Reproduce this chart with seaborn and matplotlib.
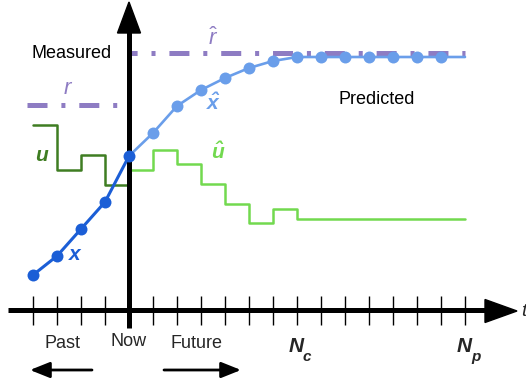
import matplotlib
matplotlib.use("Agg")
import matplotlib.pyplot as plt
from matplotlib.patches import Polygon, FancyArrowPatch
import seaborn as sns

# --- signals (time step k, Now = 0) -------------------------------------
k_past = [-4, -3, -2, -1, 0]
x_measured = [3.5, 5.4, 8.1, 10.8, 15.4]

k_future = list(range(0, 15))
x_predicted = [15.4, 17.7, 20.4, 22.0, 23.2, 24.2, 24.9, 25.3,
               25.3, 25.3, 25.3, 25.3, 25.3, 25.3, 25.3]

u_past = [18.5, 14.0, 15.5, 12.5]                      # held over k = -4..-1
u_future = [14.0, 16.0, 14.6, 12.6, 10.6, 8.7, 10.1,
            9.1, 9.1, 9.1, 9.1, 9.1, 9.1, 9.1]          # held over k = 0..13

r_k = [-4.25, -0.3]
r_past = [20.5, 20.5]
r_hat_k = [0.08, 14.0]
r_future = [25.7, 25.7]

tick_steps = [k for k in range(-4, 15) if k != 0]
N_c, N_p = 7, 14

# --- styling ------------------------------------------------------------
sns.set_theme(style="white")
plt.rcParams["font.family"] = ["Liberation Sans", "DejaVu Sans"]
plt.rcParams["mathtext.fontset"] = "custom"
plt.rcParams["mathtext.rm"] = "Liberation Sans"
plt.rcParams["mathtext.it"] = "Liberation Sans:italic"
plt.rcParams["mathtext.bf"] = "Liberation Sans:italic:bold"
plt.rcParams["lines.scale_dashes"] = False

DARK_BLUE = "#1b5ed6"
LIGHT_BLUE = "#6a9eea"
DARK_GREEN = "#3f7d22"
LIGHT_GREEN = "#72d94f"
PURPLE = "#8e7cc3"

W, H = 526, 380
fig = plt.figure(figsize=(W / 100, H / 100), dpi=100)
ax = fig.add_axes([0, 0, 1, 1])
ax.set_axis_off()
# 24 px per time step, 10 px per signal unit; Now sits at x=129 px, axis at y=310 px
ax.set_xlim(-129 / 24, (W - 129) / 24)
ax.set_ylim((310 - H) / 10, 310 / 10)


def fp(x, y):
    """pixel position (from top-left) -> figure fraction"""
    return x / W, 1 - y / H


def inch(x, y):
    return x / 100, (H - y) / 100


# --- reference trajectories ----------------------------------------------
sns.lineplot(x=r_k, y=r_past, ax=ax, color=PURPLE, linewidth=3.6,
             linestyle=(0, (14.4, 10.0, 2.9, 10.0)), zorder=2)
sns.lineplot(x=r_hat_k, y=r_future, ax=ax, color=PURPLE, linewidth=3.6,
             linestyle=(10.0, (14.4, 10.0, 2.9, 10.0)), zorder=2)

# --- inputs (zero-order hold) --------------------------------------------
sns.lineplot(x=k_past, y=u_past + [u_past[-1]], ax=ax, color=DARK_GREEN,
             linewidth=1.8, drawstyle="steps-post", zorder=2)
sns.lineplot(x=k_future, y=u_future + [u_future[-1]], ax=ax, color=LIGHT_GREEN,
             linewidth=1.8, drawstyle="steps-post", zorder=2)

# --- outputs -------------------------------------------------------------
sns.lineplot(x=k_future, y=x_predicted, ax=ax, color=LIGHT_BLUE, linewidth=1.9,
             marker="o", markersize=8.6, markeredgewidth=0,
             markevery=list(range(1, 14)), zorder=2)

# --- time axis and value axis ---------------------------------------------
ax.vlines(tick_steps, -1.5, 1.4, color="black", linewidth=1.0, zorder=3)
ax.add_line(plt.Line2D([8 / 100, 488 / 100], [(H - 310) / 100] * 2,
                       transform=fig.dpi_scale_trans, color="black",
                       linewidth=3.6, solid_capstyle="butt", zorder=3))
ax.add_patch(Polygon([inch(485, 299.5), inch(517, 311), inch(485, 322.5)],
                     closed=True, transform=fig.dpi_scale_trans,
                     color="black", zorder=3))
ax.add_line(plt.Line2D([129 / 100] * 2, [(H - 328) / 100, (H - 30) / 100],
                       transform=fig.dpi_scale_trans, color="black",
                       linewidth=3.6, solid_capstyle="butt", zorder=3))
ax.add_patch(Polygon([inch(117.5, 33), inch(129, 2), inch(140.5, 33)],
                     closed=True, transform=fig.dpi_scale_trans,
                     color="black", zorder=3))

sns.lineplot(x=k_past, y=x_measured, ax=ax, color=DARK_BLUE, linewidth=2.2,
             marker="o", markersize=8.6, markeredgewidth=0, zorder=4)


# --- labels --------------------------------------------------------------
def label(x, y, s, **kw):
    kw.setdefault("ha", "center")
    kw.setdefault("va", "center")
    fig.text(*fp(x, y), s, **kw)


label(72, 54, "Measured", fontsize=13, color="black")
label(377, 100, "Predicted", fontsize=13, color="black")
label(68, 89, r"$r$", fontsize=16, color=PURPLE)
label(213, 39, r"$\hat{r}$", fontsize=16, color=PURPLE)
label(214, 103, r"$\mathbf{\hat{x}}$", fontsize=15, color=LIGHT_BLUE)
label(218, 152, r"$\mathbf{\hat{u}}$", fontsize=15, color=LIGHT_GREEN)
label(42, 155, "u", fontsize=15, color=DARK_GREEN, fontweight="bold",
      fontstyle="italic")
label(75, 254, "x", fontsize=15, color=DARK_BLUE, fontweight="bold",
      fontstyle="italic")

label(63, 344, "Past", fontsize=13)
label(129, 342, "Now", fontsize=13)
label(196, 344, "Future", fontsize=13)

for k_mark, sub in ((N_c, "c"), (N_p, "p")):
    xpix = 129 + 24 * k_mark
    label(xpix - 1, 346, "N", fontsize=15, fontweight="bold", fontstyle="italic")
    label(xpix + 6, 357, sub, fontsize=11, fontweight="bold",
          fontstyle="italic", ha="left")

label(521, 312, "t", fontsize=14, fontstyle="italic", ha="left")

for x0, x1 in ((92, 30), (164, 241)):
    fig.patches.append(FancyArrowPatch(
        inch(x0, 370), inch(x1, 370), transform=fig.dpi_scale_trans,
        arrowstyle="-|>,head_length=0.4,head_width=0.16", mutation_scale=30,
        color="black", linewidth=2.0, shrinkA=0, shrinkB=0))

fig.savefig("out.png", dpi=100)
